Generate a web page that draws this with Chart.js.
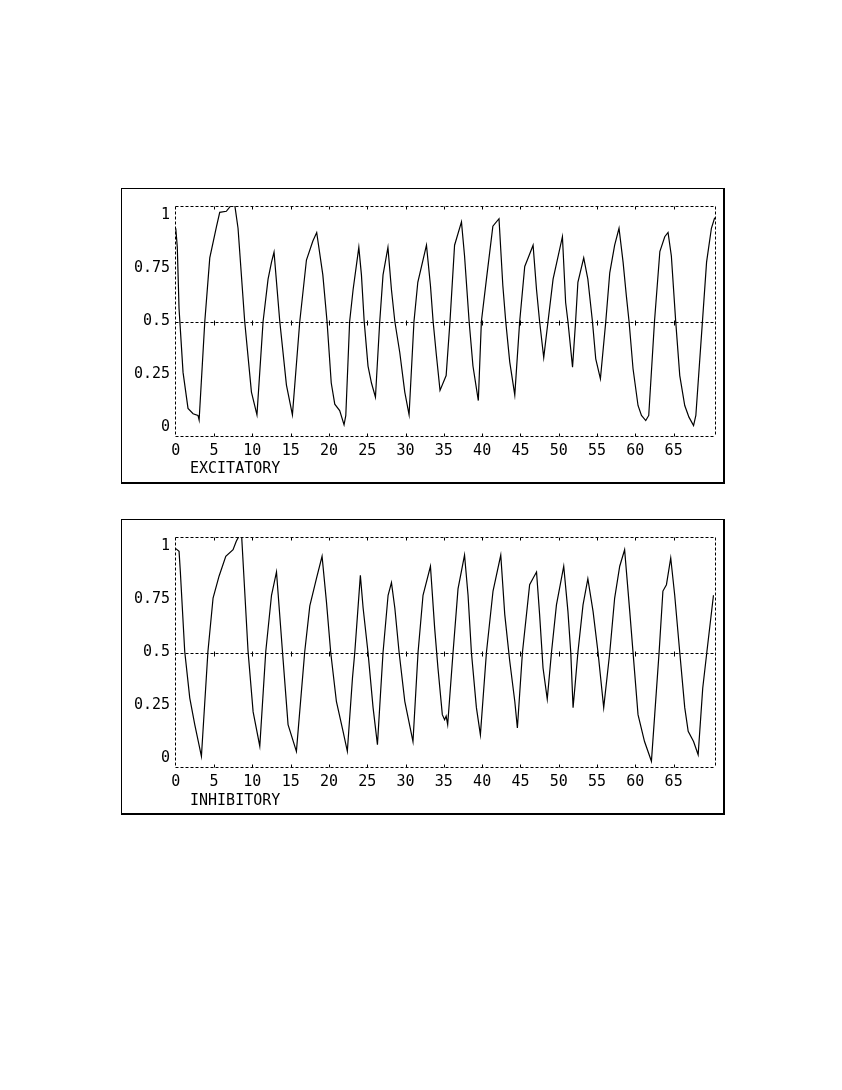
<!DOCTYPE html>
<html>
<head>
<meta charset="utf-8">
<script src="https://cdn.jsdelivr.net/npm/chart.js@4.4.1/dist/chart.umd.min.js"></script>
<style>
  html, body { margin: 0; padding: 0; background: #fff; }
  #page { position: relative; width: 842px; height: 1090px; background: #fff; overflow: hidden; }
  .frame { position: absolute; border-style: solid; border-color: #000; border-width: 1px 2px 2px 1px; box-sizing: border-box; pointer-events: none; }
  canvas { position: absolute; }
  .lbl { position: absolute; font-family: 'DejaVu Sans Mono', monospace; font-size: 15px; line-height: 15px; color: #000; white-space: pre; }
</style>
</head>
<body>
<div id="page">
  <canvas id="c1" width="603" height="296" style="left:121px;top:188px;width:603px;height:296px"></canvas>
  <div class="frame" style="left:121px;top:188px;width:604px;height:296px"></div>
  <div class="lbl" style="left:190px;top:461px">EXCITATORY</div>

  <canvas id="c2" width="603" height="296" style="left:121px;top:519px;width:603px;height:296px"></canvas>
  <div class="frame" style="left:121px;top:519px;width:604px;height:296px"></div>
  <div class="lbl" style="left:190px;top:793px">INHIBITORY</div>
</div>
<script>
// ---- data ----
const xTicks = [0, 5, 10, 15, 20, 25, 30, 35, 40, 45, 50, 55, 60, 65];
const yTicks = [0, 0.25, 0.5, 0.75, 1];
const yTickLabels = ['0', '0.25', '0.5', '0.75', '1'];

const excX = [0, 0.2, 0.43, 0.95, 1.6, 2.26, 2.9, 3.05, 3.79, 4.44, 5.3, 5.74, 6.6, 7.27, 7.7, 8.13, 9.0, 9.88, 10.6, 11.4,
  12.05, 12.5, 12.83, 13.58, 14.45, 15.23, 16.19, 17.06, 17.9, 18.4, 19.2, 19.75, 20.3, 20.76, 21.4, 21.97, 22.2, 22.7,
  23.15, 23.9, 24.24, 24.6, 25.1, 25.55, 26.07, 26.63, 27.06, 27.7, 28.16, 28.6, 29.24, 29.9, 30.46, 31.1, 31.6, 32.73,
  33.25, 33.6, 34.03, 34.5, 35.3, 35.8, 36.4, 37.3, 37.7, 38.3, 38.8, 39.5, 39.9, 40.56, 41.4, 42.2, 42.7, 43.08, 43.6,
  44.26, 44.9, 45.56, 46.0, 46.65, 47.1, 47.5, 48.04, 48.6, 49.26, 50.48, 50.9, 51.2, 51.8, 52.2, 52.5, 53.26, 53.8,
  54.4, 54.83, 55.44, 56.14, 56.66, 57.3, 57.87, 58.4, 58.83, 59.18, 59.7, 60.35, 60.8, 61.36, 61.75, 62.5, 63.2, 63.84,
  64.27, 64.7, 65.27, 65.8, 66.45, 67.0, 67.6, 67.9, 68.76, 69.3, 69.93, 70.36];
const excY = [0.94, 0.85, 0.56, 0.26, 0.09, 0.065, 0.057, 0.035, 0.5, 0.80, 0.945, 1.015, 1.02, 1.05, 1.05, 0.94, 0.5, 0.167, 0.06, 0.5,
  0.70, 0.78, 0.827, 0.5, 0.2, 0.06, 0.5, 0.79, 0.88, 0.92, 0.72, 0.5, 0.21, 0.11, 0.08, 0.013, 0.057, 0.5,
  0.65, 0.85, 0.72, 0.5, 0.29, 0.21, 0.143, 0.5, 0.72, 0.85, 0.65, 0.5, 0.355, 0.167, 0.06, 0.5, 0.685, 0.86,
  0.67, 0.5, 0.34, 0.175, 0.245, 0.5, 0.86, 0.97, 0.81, 0.5, 0.29, 0.127, 0.5, 0.70, 0.95, 0.985, 0.67, 0.5, 0.31,
  0.154, 0.5, 0.76, 0.80, 0.86, 0.65, 0.5, 0.33, 0.5, 0.70, 0.90, 0.59, 0.5, 0.285, 0.5, 0.685, 0.80, 0.70,
  0.5, 0.324, 0.23, 0.5, 0.73, 0.86, 0.94, 0.78, 0.62, 0.5, 0.277, 0.104, 0.057, 0.033, 0.057, 0.5, 0.83, 0.90,
  0.92, 0.81, 0.5, 0.245, 0.104, 0.049, 0.009, 0.057, 0.5, 0.78, 0.94, 0.99];

const inhX = [0, 0.43, 0.6, 1.17, 1.83, 2.48, 3.35, 4.2, 4.87, 5.65, 6.53, 7.48, 7.9, 8.27, 8.6, 9.44, 10.1, 10.97, 11.75, 12.5,
  13.15, 13.93, 14.66, 15.75, 16.84, 17.5, 18.37, 19.1, 19.67, 20.23, 20.97, 21.84, 22.4, 23.07, 23.37, 24.1, 24.46,
  25.1, 25.76, 26.33, 26.72, 27.06, 27.72, 28.16, 28.6, 29.16, 29.9, 30.97, 31.63, 32.28, 33.25, 33.8, 34.23, 34.8,
  35.1, 35.3, 35.5, 36.2, 36.85, 37.7, 38.16, 38.6, 39.25, 39.77, 40.56, 41.42, 42.43, 42.95, 43.6, 44.26, 44.6, 45.26,
  46.2, 46.65, 47.1, 47.5, 47.95, 48.5, 49.05, 49.7, 50.65, 51.2, 51.57, 51.87, 52.1, 52.5, 53.17, 53.8, 54.48, 55.13,
  55.87, 56.66, 57.3, 57.96, 58.6, 59.27, 59.7, 60.35, 61.2, 62.1, 62.53, 63.1, 63.6, 64.06, 64.62, 65.14, 65.8, 66.45,
  66.9, 67.6, 68.2, 68.8, 69.33, 70.2];
const inhY = [0.99, 0.977, 0.88, 0.505, 0.285, 0.16, 0.01, 0.505, 0.757, 0.86, 0.954, 0.985, 1.025, 1.05, 1.05, 0.505, 0.22, 0.058, 0.505, 0.77,
  0.88, 0.505, 0.16, 0.034, 0.505, 0.72, 0.85, 0.954, 0.74, 0.5, 0.27, 0.128, 0.034, 0.38, 0.5, 0.864, 0.71,
  0.5, 0.24, 0.065, 0.30, 0.5, 0.77, 0.83, 0.71, 0.5, 0.27, 0.08, 0.5, 0.77, 0.907, 0.615, 0.427, 0.207,
  0.183, 0.2, 0.16, 0.5, 0.80, 0.96, 0.77, 0.5, 0.24, 0.112, 0.5, 0.79, 0.96, 0.68, 0.46, 0.27, 0.144, 0.5,
  0.82, 0.85, 0.88, 0.68, 0.427, 0.28, 0.5, 0.725, 0.907, 0.694, 0.5, 0.24, 0.333, 0.5, 0.725, 0.848, 0.694, 0.5,
  0.24, 0.5, 0.757, 0.907, 0.985, 0.694, 0.5, 0.207, 0.08, -0.013, 0.207, 0.5, 0.79, 0.82, 0.946, 0.77, 0.5, 0.24,
  0.128, 0.08, 0.018, 0.333, 0.5, 0.77];

// ---- chart construction ----
Chart.defaults.font.family = "'DejaVu Sans Mono', monospace";
Chart.defaults.font.size = 15;
Chart.defaults.color = '#000';

const framePlugin = {
  id: 'framePlugin',
  beforeDatasetsDraw(chart) {
    const ctx = chart.ctx;
    const a = chart.chartArea;
    const xs = chart.scales.x, ys = chart.scales.y;
    const L = Math.round(a.left) + 0.5, R = Math.round(a.right) + 0.5;
    const T = Math.round(a.top) + 0.5, B = Math.round(a.bottom) + 0.5;
    const mid = Math.round(ys.getPixelForValue(0.5)) + 0.5;
    ctx.save();
    ctx.strokeStyle = '#000';
    ctx.lineWidth = 1;
    ctx.setLineDash([3, 2]);
    ctx.beginPath();
    ctx.moveTo(L, T); ctx.lineTo(R, T);
    ctx.moveTo(R, T); ctx.lineTo(R, B);
    ctx.moveTo(L, B); ctx.lineTo(R, B);
    ctx.moveTo(L, T); ctx.lineTo(L, B);
    ctx.moveTo(L, mid); ctx.lineTo(R, mid);
    ctx.stroke();
    ctx.setLineDash([]);
    ctx.beginPath();
    xTicks.forEach(v => {
      if (v === 0) return;
      const px = Math.round(xs.getPixelForValue(v)) + 0.5;
      ctx.moveTo(px, T); ctx.lineTo(px, T + 3);
      ctx.moveTo(px, B); ctx.lineTo(px, B - 3);
      ctx.moveTo(px, mid - 2); ctx.lineTo(px, mid + 3);
    });
    ctx.stroke();
    ctx.restore();
  }
};

function makeChart(id, xs, ys) {
  const pts = xs.map((x, i) => ({ x: x, y: ys[i] }));
  return new Chart(document.getElementById(id), {
    type: 'line',
    data: { datasets: [{ data: pts, borderColor: '#000', borderWidth: 1.2, pointRadius: 0, tension: 0, clip: 0, fill: false }] },
    options: {
      responsive: false,
      devicePixelRatio: 1,
      animation: false,
      events: [],
      layout: { padding: { top: 18, right: 9, left: 0, bottom: 0 } },
      plugins: { legend: { display: false }, tooltip: { enabled: false } },
      scales: {
        x: {
          type: 'linear', min: -0.1, max: 70.4,
          grid: { display: false, drawTicks: false },
          border: { display: false },
          afterBuildTicks: s => { s.ticks = xTicks.map(v => ({ value: v })); },
          afterFit: s => { s.height = 48; },
          ticks: { padding: 6, maxRotation: 0, autoSkip: false, callback: v => String(v) }
        },
        y: {
          type: 'linear', min: -0.04, max: 1.045,
          grid: { display: false, drawTicks: false },
          border: { display: false },
          afterBuildTicks: s => { s.ticks = yTicks.map(v => ({ value: v })); },
          afterFit: s => { s.width = 54; },
          ticks: { padding: 5, autoSkip: false, callback: v => yTickLabels[yTicks.indexOf(v)] }
        }
      }
    },
    plugins: [framePlugin]
  });
}

makeChart('c1', excX, excY);
makeChart('c2', inhX, inhY);
</script>
</body>
</html>
